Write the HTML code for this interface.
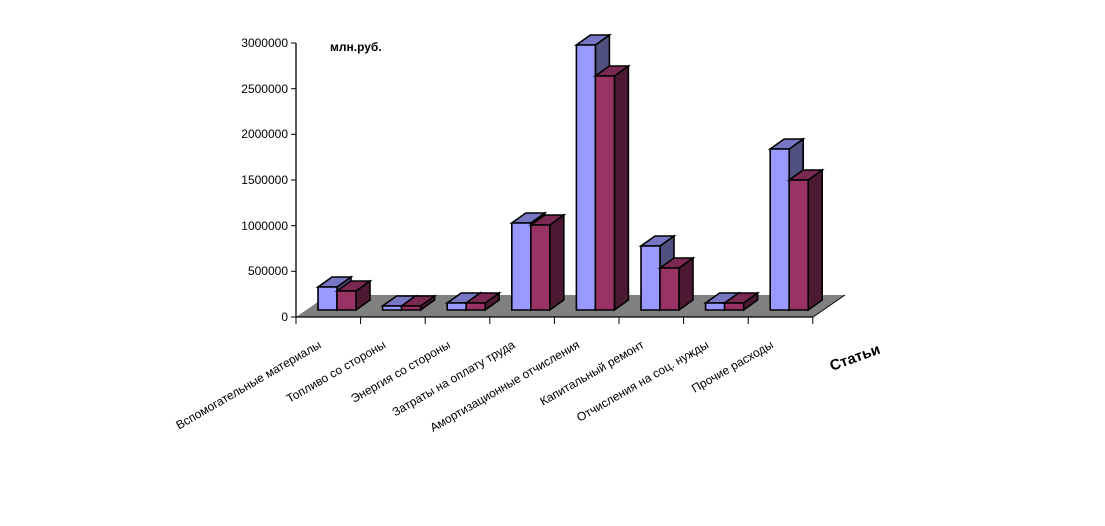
<!DOCTYPE html>
<html><head><meta charset="utf-8"><style>
html,body{margin:0;padding:0;background:#fff;}
svg{display:block;font-family:"Liberation Sans",Arial,sans-serif;}
</style></head><body>
<svg width="1105" height="526" viewBox="0 0 1105 526" xmlns="http://www.w3.org/2000/svg">
<polygon points="296,317 813,317 845,295 328,295" fill="#808080"/>
<line x1="296" y1="43" x2="296" y2="317" stroke="#000" stroke-width="1.3"/>
<line x1="296" y1="317" x2="813" y2="317" stroke="#000" stroke-width="1.3"/>
<line x1="813" y1="317" x2="845" y2="295" stroke="#000" stroke-width="1"/>
<g stroke="#000" stroke-width="1">
<line x1="291" y1="43" x2="296" y2="43"/><line x1="291" y1="88.7" x2="296" y2="88.7"/>
<line x1="291" y1="134.3" x2="296" y2="134.3"/><line x1="291" y1="180" x2="296" y2="180"/>
<line x1="291" y1="225.7" x2="296" y2="225.7"/><line x1="291" y1="271.3" x2="296" y2="271.3"/>
<line x1="291" y1="317" x2="296" y2="317"/>
</g>
<g font-size="12" text-anchor="end" fill="#000">
<text x="288" y="47">3000000</text><text x="288" y="93">2500000</text>
<text x="288" y="138">2000000</text><text x="288" y="184">1500000</text>
<text x="288" y="230">1000000</text><text x="288" y="275">500000</text>
<text x="288" y="321">0</text>
</g>
<text x="330" y="51" font-size="12" font-weight="bold">млн.руб.</text>
<g id="bars" stroke="#000" stroke-width="1.6" stroke-linejoin="miter"></g>
<g id="ticks" stroke="#000" stroke-width="1"></g>
<g id="labels" font-size="12" text-anchor="end"></g>
<text x="832" y="371" font-size="15" font-weight="bold" transform="rotate(-20 832 371)">Статьи</text>
<script>
var ns="http://www.w3.org/2000/svg";
var b=document.getElementById("bars"),t=document.getElementById("ticks"),l=document.getElementById("labels");
var hs=[[23,19],[4,4],[7,7],[87,85],[265,234],[64,42],[7,7],[161,130]];
var names=["Вспомогательные материалы","Топливо со стороны","Энергия со стороны","Затраты на оплату труда","Амортизационные отчисления","Капитальный ремонт","Отчисления на соц. нужды","Прочие расходы"];
var sp=64.6,base=310,dx=14,dy=10,w=19;
var cols=[["#9999ff","#7777c4","#4f4f80"],["#993366","#7a2952","#4c1933"]];
function poly(p,f){var e=document.createElementNS(ns,"polygon");e.setAttribute("points",p);e.setAttribute("fill",f);b.appendChild(e);}
for(var k=0;k<9;k++){var x=296+sp*k;var e=document.createElementNS(ns,"line");e.setAttribute("x1",x);e.setAttribute("x2",x);e.setAttribute("y1",317);e.setAttribute("y2",324);t.appendChild(e);}
for(var k=0;k<8;k++){
 var s=296+sp*k;
 for(var j=0;j<2;j++){
  var x0=s+22+j*w,x1=x0+w,h=hs[k][j],y=base-h,c=cols[j];
  poly(x1+","+base+" "+(x1+dx)+","+(base-dy)+" "+(x1+dx)+","+(y-dy)+" "+x1+","+y,c[2]);
  poly(x0+","+y+" "+x1+","+y+" "+(x1+dx)+","+(y-dy)+" "+(x0+dx)+","+(y-dy),c[1]);
  poly(x0+","+base+" "+x1+","+base+" "+x1+","+y+" "+x0+","+y,c[0]);
 }
 var cx=s+26,cy=347;
 var tx=document.createElementNS(ns,"text");tx.setAttribute("x",cx);tx.setAttribute("y",cy);
 tx.setAttribute("transform","rotate(-30 "+cx+" "+cy+")");tx.textContent=names[k];l.appendChild(tx);
}
</script>
</svg>
</body></html>
